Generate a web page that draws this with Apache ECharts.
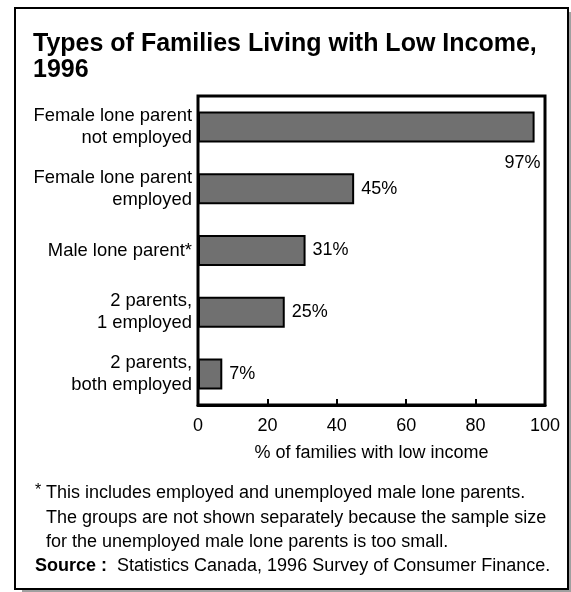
<!DOCTYPE html>
<html>
<head>
<meta charset="utf-8">
<script src="https://cdn.jsdelivr.net/npm/echarts@6/dist/echarts.min.js"></script>
<style>
  html, body { margin: 0; padding: 0; background: #fff; }
  #chart { width: 571px; height: 592px; }
</style>
</head>
<body>
<div id="chart"></div>
<script>
// Chart text and values
const titleText = 'Types of Families Living with Low Income,\n1996';
const categories = [
  'Female lone parent\nnot employed',
  'Female lone parent\nemployed',
  'Male lone parent*',
  '2 parents,\n1 employed',
  '2 parents,\nboth employed'
];
const values = [97, 45, 31, 25, 7];
const xMin = 0;
const xMax = 100;
const xStep = 20;
const xAxisName = '% of families with low income';
const noteMark = '*';
const noteLines = [
  'This includes employed and unemployed male lone parents.',
  'The groups are not shown separately because the sample size',
  'for the unemployed male lone parents is too small.'
];
const sourceLabel = 'Source :';
const sourceText = 'Statistics Canada, 1996 Survey of Consumer Finance.';

const FONT = '"Liberation Sans", Arial, Helvetica, sans-serif';

const chart = echarts.init(document.getElementById('chart'), null, { renderer: 'canvas' });

// The longest bar carries its label beneath its right end
const barData = values.map((v, i) => i === 0
  ? { value: v, label: { position: ['100%', '100%'], align: 'right', verticalAlign: 'top', offset: [6, 8] } }
  : v);

const noteY = [493, 518, 542];
const graphics = [
  // drop shadow and outer frame
  { type: 'rect', z: -10, shape: { x: 22, y: 12, width: 549, height: 580 }, style: { fill: '#a0a0a0' } },
  { type: 'rect', z: -9, shape: { x: 15, y: 8, width: 553, height: 581 }, style: { fill: '#fff', stroke: '#000', lineWidth: 2 } },
  { type: 'text', x: 35, y: noteY[0] - 2, style: { text: noteMark, font: '16px ' + FONT, fill: '#000', verticalAlign: 'middle' } }
];
noteLines.forEach((t, i) => {
  graphics.push({ type: 'text', x: 46, y: noteY[i], style: { text: t, font: '18px ' + FONT, fill: '#000', verticalAlign: 'middle' } });
});
graphics.push({
  type: 'text', x: 35, y: 566,
  style: {
    text: '{b|' + sourceLabel + '}  ' + sourceText,
    font: '18px ' + FONT, fill: '#000', verticalAlign: 'middle',
    rich: { b: { fontWeight: 'bold', fontSize: 18, fontFamily: FONT, fill: '#000' } }
  }
});

chart.setOption({
  animation: false,
  backgroundColor: '#fff',
  textStyle: { fontFamily: FONT },
  title: {
    text: titleText,
    left: 33, top: 31, padding: 0,
    textStyle: { fontFamily: FONT, fontWeight: 'bold', fontSize: 25, lineHeight: 26, color: '#000' }
  },
  grid: {
    left: 198, right: 26, top: 96, bottom: 187,
    show: true, borderWidth: 3, borderColor: '#000', backgroundColor: 'transparent'
  },
  xAxis: {
    type: 'value', min: xMin, max: xMax, interval: xStep,
    axisLine: { show: true, lineStyle: { color: '#000', width: 3 } },
    axisTick: { show: true, inside: true, length: 6, lineStyle: { color: '#000', width: 2 } },
    splitLine: { show: false },
    axisLabel: { color: '#000', fontSize: 18, fontFamily: FONT, margin: 12 },
    name: xAxisName, nameLocation: 'middle', nameGap: 39,
    nameTextStyle: { color: '#000', fontSize: 18, fontFamily: FONT }
  },
  yAxis: {
    type: 'category', inverse: true, data: categories,
    axisLine: { show: false }, axisTick: { show: false },
    axisLabel: { color: '#000', fontSize: 18.4, lineHeight: 22, fontFamily: FONT, margin: 6, align: 'right', padding: [10, 0, 0, 0] }
  },
  series: [{
    type: 'bar',
    data: barData,
    barWidth: 31,
    itemStyle: { color: '#707070', borderColor: '#000', borderWidth: 2 },
    label: { show: true, position: 'right', distance: 7, formatter: '{c}%', color: '#000', fontSize: 18, fontFamily: FONT, padding: [4, 0, 0, 0] }
  }],
  graphic: graphics
});
</script>
</body>
</html>
